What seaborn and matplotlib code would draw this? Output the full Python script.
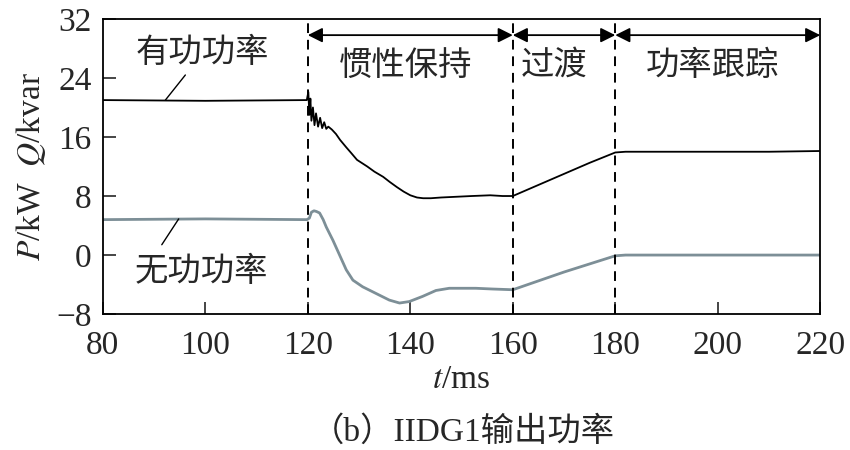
import numpy as np
import pandas as pd
import matplotlib
matplotlib.use("Agg")
import matplotlib.pyplot as plt
import seaborn as sns

# ---- data ----
t_p = [80, 100, 119.8, 120.1, 120.3, 120.5, 120.7, 121.0, 121.3, 121.6, 122.0, 122.4, 122.8,
       123.2, 123.6, 124.0, 124.7, 125.5, 126.3, 127.5, 128.5, 129.6, 131.6, 133.0, 134.7,
       136.0, 137.4, 138.7, 140.0, 141.3, 142.5, 144.0, 146.0, 149.0, 152.0, 155.6, 158.0,
       160.0, 165.0, 170.0, 175.0, 180.0, 182.0, 190.0, 200.0, 210.0, 220.0]
p_val = [21.0, 20.9, 21.0, 22.1, 19.0, 21.2, 18.2, 20.0, 17.6, 19.2, 17.4, 18.6, 17.2,
         18.0, 17.1, 17.4, 17.0, 16.4, 15.6, 14.6, 13.8, 12.9, 12.0, 11.3, 10.6,
         9.9, 9.2, 8.6, 8.1, 7.8, 7.7, 7.7, 7.8, 7.9, 8.0, 8.1, 8.0,
         8.0, 9.5, 11.0, 12.5, 13.9, 14.0, 14.0, 14.0, 14.0, 14.1]

t_q = [80, 100, 119.8, 120.3, 120.7, 121.2, 121.7, 122.3, 123.0, 123.6, 124.9, 126.2,
       127.5, 128.8, 130.7, 133.3, 135.9, 137.9, 139.8, 142.4, 145.0, 147.6, 152.8,
       156.0, 160.0, 165.0, 170.0, 175.0, 180.0, 182.0, 190.0, 200.0, 210.0, 220.0]
q_val = [4.8, 4.9, 4.8, 5.0, 5.8, 6.0, 5.9, 5.7, 4.8, 3.8, 2.0, 0.0,
         -2.0, -3.4, -4.3, -5.2, -6.1, -6.5, -6.3, -5.6, -4.8, -4.5, -4.5,
         -4.6, -4.7, -3.5, -2.3, -1.2, -0.1, 0.0, 0.0, 0.0, 0.0, 0.0]

x_ticks = [80, 100, 120, 140, 160, 180, 200, 220]
y_ticks = [-8, 0, 8, 16, 24, 32]
y_tick_labels = ["\u22128", "0", "8", "16", "24", "32"]
boundaries = [120, 160, 180]
stage_spans = [(120, 160), (160, 180), (180, 220)]
stage_names = ["惯性保持", "过渡", "功率跟踪"]
stage_label_x = [139, 168, 199]

sns.set_style("ticks")
plt.rcParams["font.family"] = ["Liberation Serif", "Noto Sans CJK SC"]
plt.rcParams["mathtext.fontset"] = "stix"
plt.rcParams["axes.unicode_minus"] = True

FS = 24
fig = plt.figure(figsize=(8.5, 4.5), dpi=100)
ax = fig.add_axes([0.121, 0.302, 0.844, 0.656])

df_p = pd.DataFrame({"t": t_p, "v": p_val})
df_q = pd.DataFrame({"t": t_q, "v": q_val})
sns.lineplot(data=df_p, x="t", y="v", ax=ax, color="black", lw=1.3, estimator=None, sort=False)
sns.lineplot(data=df_q, x="t", y="v", ax=ax, color="#7d8f97", lw=2.0, estimator=None, sort=False)

for b in boundaries:
    ax.axvline(b, color="black", lw=1.4, ls=(0, (5, 3.5)))

arrow_y = 29.8
for (a, b) in stage_spans:
    ax.annotate("", xy=(b, arrow_y), xytext=(a, arrow_y),
                arrowprops=dict(arrowstyle="<|-|>", color="black", lw=1.3,
                                mutation_scale=22, shrinkA=0, shrinkB=0))
for name, xc in zip(stage_names, stage_label_x):
    ax.text(xc, 25.6, name, ha="center", va="center", fontsize=FS)

ax.text(99.5, 27.3, "有功功率", ha="center", va="center", fontsize=FS)
ax.plot([96.1, 92.2], [24.4, 21.0], color="black", lw=1.0)
ax.text(99.3, -2.4, "无功功率", ha="center", va="center", fontsize=FS)
ax.plot([94.8, 91.5], [4.9, 1.4], color="black", lw=1.0)

ax.set_xlim(80, 220)
ax.set_ylim(-8, 32)
ax.set_xticks(x_ticks)
ax.set_xticklabels([str(v) for v in x_ticks])
ax.set_yticks(y_ticks)
ax.set_yticklabels(y_tick_labels)
ax.tick_params(direction="in", length=9, width=1.2, labelsize=FS)
ax.tick_params(axis="x", pad=12)
ax.tick_params(axis="y", pad=8)
for s in ax.spines.values():
    s.set_visible(True)
    s.set_linewidth(1.3)
    s.set_color("black")

ax.set_xlabel(r"$t$/ms", fontsize=FS, labelpad=2)
ax.set_ylabel(r"$P$/kW  $Q$/kvar", fontsize=FS, labelpad=6)

fig.text(0.545, 0.04, "（b）IIDG1输出功率", ha="center", va="center", fontsize=FS)

fig.savefig("out.png", dpi=100)
